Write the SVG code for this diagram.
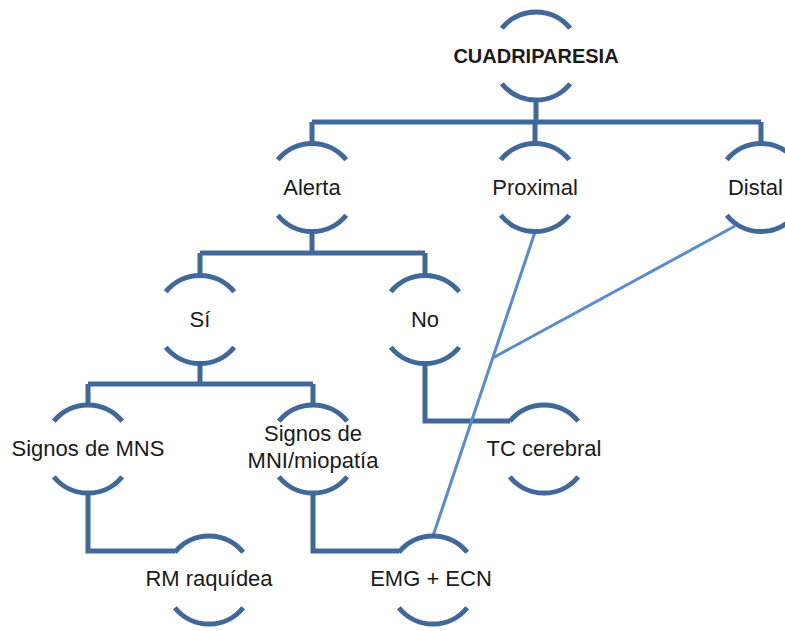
<svg xmlns="http://www.w3.org/2000/svg" width="785" height="631" viewBox="0 0 785 631">
<defs>
<style>
.arc{fill:none;stroke:#41689b;stroke-width:5;stroke-linecap:butt}
.con{fill:none;stroke:#41689b;stroke-width:5;stroke-linejoin:miter}
.lt{fill:none;stroke:#5a8ad0;stroke-width:3}
text{font-family:"Liberation Sans",Arial,sans-serif;font-size:22px;fill:#1a1a1a;text-anchor:middle}
.b{font-weight:bold;font-size:20px}
</style>
</defs>
<rect width="785" height="631" fill="#ffffff"/>
<g id="connectors">
<path class="con" d="M536,100 V122 M312,122 H761 M312,122 V143.5 M535,122 V143.5 M761,122 V143.5"/>
<path class="con" d="M312,231.5 V253 M200,253 H425 M200,253 V275.5 M425,253 V275.5"/>
<path class="con" d="M200,363.5 V384 M88,384 H313 M88,384 V405 M313,384 V405"/>
<path class="con" d="M88,493 V551 H175"/>
<path class="con" d="M313,493 V551 H399"/>
<path class="con" d="M425,363.5 V421 H510"/>
<path class="lt" d="M535,232 L433,536"/>
<path class="lt" d="M735,226 L492.7,358"/>
</g>
<g id="n-cuadriparesia">
<path class="arc" d="M501.8,28.3 A44 44 0 0 1 570.2,28.3 M501.8,83.7 A44 44 0 0 0 570.2,83.7"/>
<text class="b" x="536" y="63">CUADRIPARESIA</text>
</g>
<g id="n-alerta">
<path class="arc" d="M277.8,159.8 A44 44 0 0 1 346.2,159.8 M277.8,215.2 A44 44 0 0 0 346.2,215.2"/>
<text x="312" y="194.5">Alerta</text>
</g>
<g id="n-proximal">
<path class="arc" d="M500.8,159.8 A44 44 0 0 1 569.2,159.8 M500.8,215.2 A44 44 0 0 0 569.2,215.2"/>
<text x="535" y="194.5">Proximal</text>
</g>
<g id="n-distal">
<path class="arc" d="M726.8,159.8 A44 44 0 0 1 795.2,159.8 M726.8,215.2 A44 44 0 0 0 795.2,215.2"/>
<text x="783" y="194.5" style="text-anchor:end">Distal</text>
</g>
<g id="n-si">
<path class="arc" d="M165.8,291.8 A44 44 0 0 1 234.2,291.8 M165.8,347.2 A44 44 0 0 0 234.2,347.2"/>
<text x="200" y="326.5">Sí</text>
</g>
<g id="n-no">
<path class="arc" d="M390.8,291.8 A44 44 0 0 1 459.2,291.8 M390.8,347.2 A44 44 0 0 0 459.2,347.2"/>
<text x="425" y="326.5">No</text>
</g>
<g id="n-mns">
<path class="arc" d="M53.8,421.3 A44 44 0 0 1 122.2,421.3 M53.8,476.7 A44 44 0 0 0 122.2,476.7"/>
<text x="88" y="456">Signos de MNS</text>
</g>
<g id="n-mni">
<path class="arc" d="M278.8,421.3 A44 44 0 0 1 347.2,421.3 M278.8,476.7 A44 44 0 0 0 347.2,476.7"/>
<text x="313" y="441">Signos de</text>
<text x="313" y="468">MNI/miopatía</text>
</g>
<g id="n-tc">
<path class="arc" d="M509.8,421.3 A44 44 0 0 1 578.2,421.3 M509.8,476.7 A44 44 0 0 0 578.2,476.7"/>
<text x="544" y="456">TC cerebral</text>
</g>
<g id="n-rm">
<path class="arc" d="M174.8,552.3 A44 44 0 0 1 243.2,552.3 M174.8,607.7 A44 44 0 0 0 243.2,607.7"/>
<text x="209" y="586">RM raquídea</text>
</g>
<g id="n-emg">
<path class="arc" d="M398.8,552.3 A44 44 0 0 1 467.2,552.3 M398.8,607.7 A44 44 0 0 0 467.2,607.7"/>
<text x="431" y="586">EMG + ECN</text>
</g>
</svg>
